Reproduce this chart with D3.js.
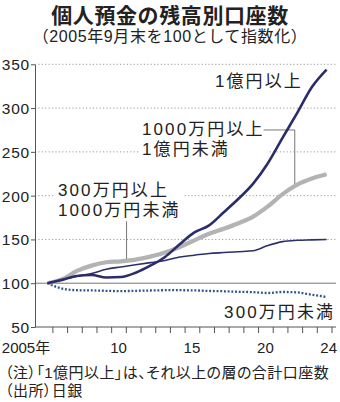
<!DOCTYPE html>
<html><head><meta charset="utf-8">
<script src="https://cdn.jsdelivr.net/npm/d3@7"></script>
<style>
html,body{margin:0;padding:0;background:#fff;}
svg{display:block;font-family:"Liberation Sans","Noto Sans CJK JP",sans-serif;}
</style></head><body>
<svg id="chart" width="340" height="402"></svg>
<script>
// ---- data (index, end of September 2005 = 100) ----
const years = [2005,2006,2007,2008,2009,2010,2011,2012,2013,2014,2015,2016,2017,2018,2019,2020,2021,2022,2023,2024];
const over100m   = [100,104,108.3,109.4,106.6,107.1,112,120,130,144.5,158,166,181,196.4,213.7,237,266,294.5,324,344];
const from10mTo100m = [100,104.5,114,120.1,123.9,125,126.9,130.4,135,141.4,149,156.5,162.2,168.5,176,187.7,201.7,212.6,219.6,224.4];
const from3mTo10m = [100,104,108,111,116,118.5,121,123.5,126,130,132,134,135,136,137,143,147.5,149,149.5,150];
const under3m    = [100,93.8,92,91.8,91.3,91,91.3,91.7,92,92,91.8,91.2,90.8,90.2,89.8,88.8,90,89.5,86.8,84.3];
const yTicks = [50,100,150,200,250,300,350];
const xTickYears = [2006,2007,2008,2009,2010,2011,2012,2013,2014,2015,2016,2017,2018,2019,2020,2021,2022,2023,2024,2025];
const xLabelYears = [2005,2010,2015,2020,2024];
const xLabelTexts = ["2005年","10","15","20","24"];
const titleText = "個人預金の残高別口座数";
const subtitleText = "（2005年9月末を100として指数化）";
const noteTexts = ["（注）「1億円以上」は、それ以上の層の合計口座数","（出所）日銀"];
const seriesNames = ["1億円以上","1000万円以上\n1億円未満","300万円以上\n1000万円未満","300万円未満"];

// ---- layout ----
const svg = d3.select("#chart");
const plotL = 35, plotR = 336;
const x = d3.scaleLinear().domain([2005,2025]).range([37.7,331.5]);
const y = d3.scaleLinear().domain([50,350]).range([327,64.3]);
const tOf = yr => yr + 8/12;
const ink = "#222";

// title
svg.append("text").attr("x",170).attr("y",15.5).attr("text-anchor","middle")
  .attr("dominant-baseline","central").attr("font-size",21).attr("font-weight","bold")
  .attr("letter-spacing",0.6).attr("fill",ink).text(titleText);
svg.append("text").attr("x",170).attr("y",36.5).attr("text-anchor","middle")
  .attr("dominant-baseline","central").attr("font-size",16)
  .attr("letter-spacing",0.6).attr("fill",ink).text(subtitleText);

// gridlines
const grid = svg.append("g");
grid.selectAll("line").data(yTicks.filter(v => v > 100)).join("line")
  .attr("x1",plotL).attr("x2",plotR).attr("y1",d=>y(d)).attr("y2",d=>y(d))
  .attr("stroke","#9a9a9a").attr("stroke-width",1).attr("stroke-dasharray","1.2 2.2");
svg.append("line").attr("x1",plotL).attr("x2",plotR).attr("y1",y(100)).attr("y2",y(100))
  .attr("stroke","#777").attr("stroke-width",1);

// y axis
const yAxis = svg.append("g").attr("transform",`translate(${plotL},0)`)
  .call(d3.axisLeft(y).tickValues(yTicks).tickSize(4).tickSizeOuter(0).tickPadding(1));
yAxis.select(".domain").attr("stroke","#555");
yAxis.selectAll(".tick line").attr("stroke","#555");
yAxis.selectAll(".tick text").attr("font-size",15.5).attr("letter-spacing",0.8)
  .attr("fill",ink).attr("font-family","'Liberation Sans','Noto Sans CJK JP'").attr("dy","0.35em");

// x axis
const xAxis = svg.append("g").attr("transform",`translate(0,${y(50)})`)
  .call(d3.axisBottom(x).tickValues(xTickYears).tickSize(6).tickSizeOuter(0).tickFormat(""));
xAxis.select(".domain").remove();
xAxis.selectAll(".tick line").attr("stroke","#555");
svg.append("line").attr("x1",plotL).attr("x2",plotR).attr("y1",y(50)).attr("y2",y(50))
  .attr("stroke","#555").attr("stroke-width",1);
svg.append("g").selectAll("text").data(xLabelYears).join("text")
  .attr("x",(d,i)=> i===0 ? x(d+0.85) : (i===xLabelYears.length-1 ? plotR+1 : x(d+0.5)))
  .attr("text-anchor",(d,i)=> i===0 || i===xLabelYears.length-1 ? "end" : "middle")
  .attr("y",347).attr("dominant-baseline","central").attr("font-size",15).attr("fill",ink)
  .text((d,i)=>xLabelTexts[i]);

// series labels with white backgrounds
function label(lines, xPos, yPos, anchor){
  const g = svg.append("g");
  const texts = lines.map((s,i)=> g.append("text").attr("font-size",17).attr("letter-spacing",2.1)
    .attr("fill",ink).attr("text-anchor",anchor).attr("x",xPos).attr("y",yPos + i*20)
    .attr("dominant-baseline","central").text(s));
  const boxes = texts.map(t=>t.node().getBBox());
  const x0 = d3.min(boxes,b=>b.x), x1 = d3.max(boxes,b=>b.x+b.width);
  const y0 = d3.min(boxes,b=>b.y), y1 = d3.max(boxes,b=>b.y+b.height);
  g.insert("rect","text").attr("x",x0-3).attr("y",y0).attr("width",x1-x0+6).attr("height",y1-y0)
    .attr("fill","#fff");
  return {boxes, x0, x1, y0, y1, widths: texts.map(t=>t.node().getComputedTextLength())};
}
const lb1 = label(seriesNames[0].split("\n"), x(2023.05), y(329.8), "end");
const lb2 = label(seriesNames[1].split("\n"), x(2012.1), y(275), "start");
const lb3 = label(seriesNames[2].split("\n"), x(2006.38), y(205.5), "start");
const lb4 = label(seriesNames[3].split("\n"), x(2025.25), y(66.6), "end");

// leaders
const interp = (arr, t) => d3.scaleLinear().domain(years.map(tOf)).range(arr)(t);
const lead = svg.append("g").attr("fill","none").attr("stroke","#777").attr("stroke-width",1);
const l2y = y(275);
lead.append("path").attr("d", d3.line()([
  [x(2012.1) + lb2.widths[0] - 1, l2y], [x(2022.5), l2y], [x(2022.5), y(interp(from10mTo100m, 2022.5)) + 1]
]));
lead.append("path").attr("d", d3.line()([
  [x(2011.05), lb3.y1 + 1], [x(2011.05), y(interp(from10mTo100m, 2011.05)) + 1.5]
]));

// series
const line = d3.line().x((d,i)=>x(tOf(years[i]))).y(d=>y(d)).curve(d3.curveMonotoneX);
svg.append("path").datum(under3m).attr("d",line).attr("fill","none")
  .attr("stroke","#2b5687").attr("stroke-width",2.3).attr("stroke-dasharray","1.9 1.8");
svg.append("path").datum(from10mTo100m).attr("d",line).attr("fill","none")
  .attr("stroke","#b3b3b3").attr("stroke-width",4.2).attr("stroke-linejoin","round");
svg.append("path").datum(from3mTo10m).attr("d",line).attr("fill","none")
  .attr("stroke","#2e2f6c").attr("stroke-width",1.6);
svg.append("path").datum(over100m).attr("d",line).attr("fill","none")
  .attr("stroke","#2b2d6b").attr("stroke-width",2.6).attr("stroke-linejoin","round");

// notes
svg.append("g").selectAll("text").data(noteTexts).join("text")
  .attr("x",5).attr("y",(d,i)=>372 + i*18).attr("dominant-baseline","central")
  .attr("font-size",15).attr("letter-spacing",0.45).attr("fill",ink).style("font-feature-settings","'palt'")
  .text(d=>d);
</script>
</body></html>
